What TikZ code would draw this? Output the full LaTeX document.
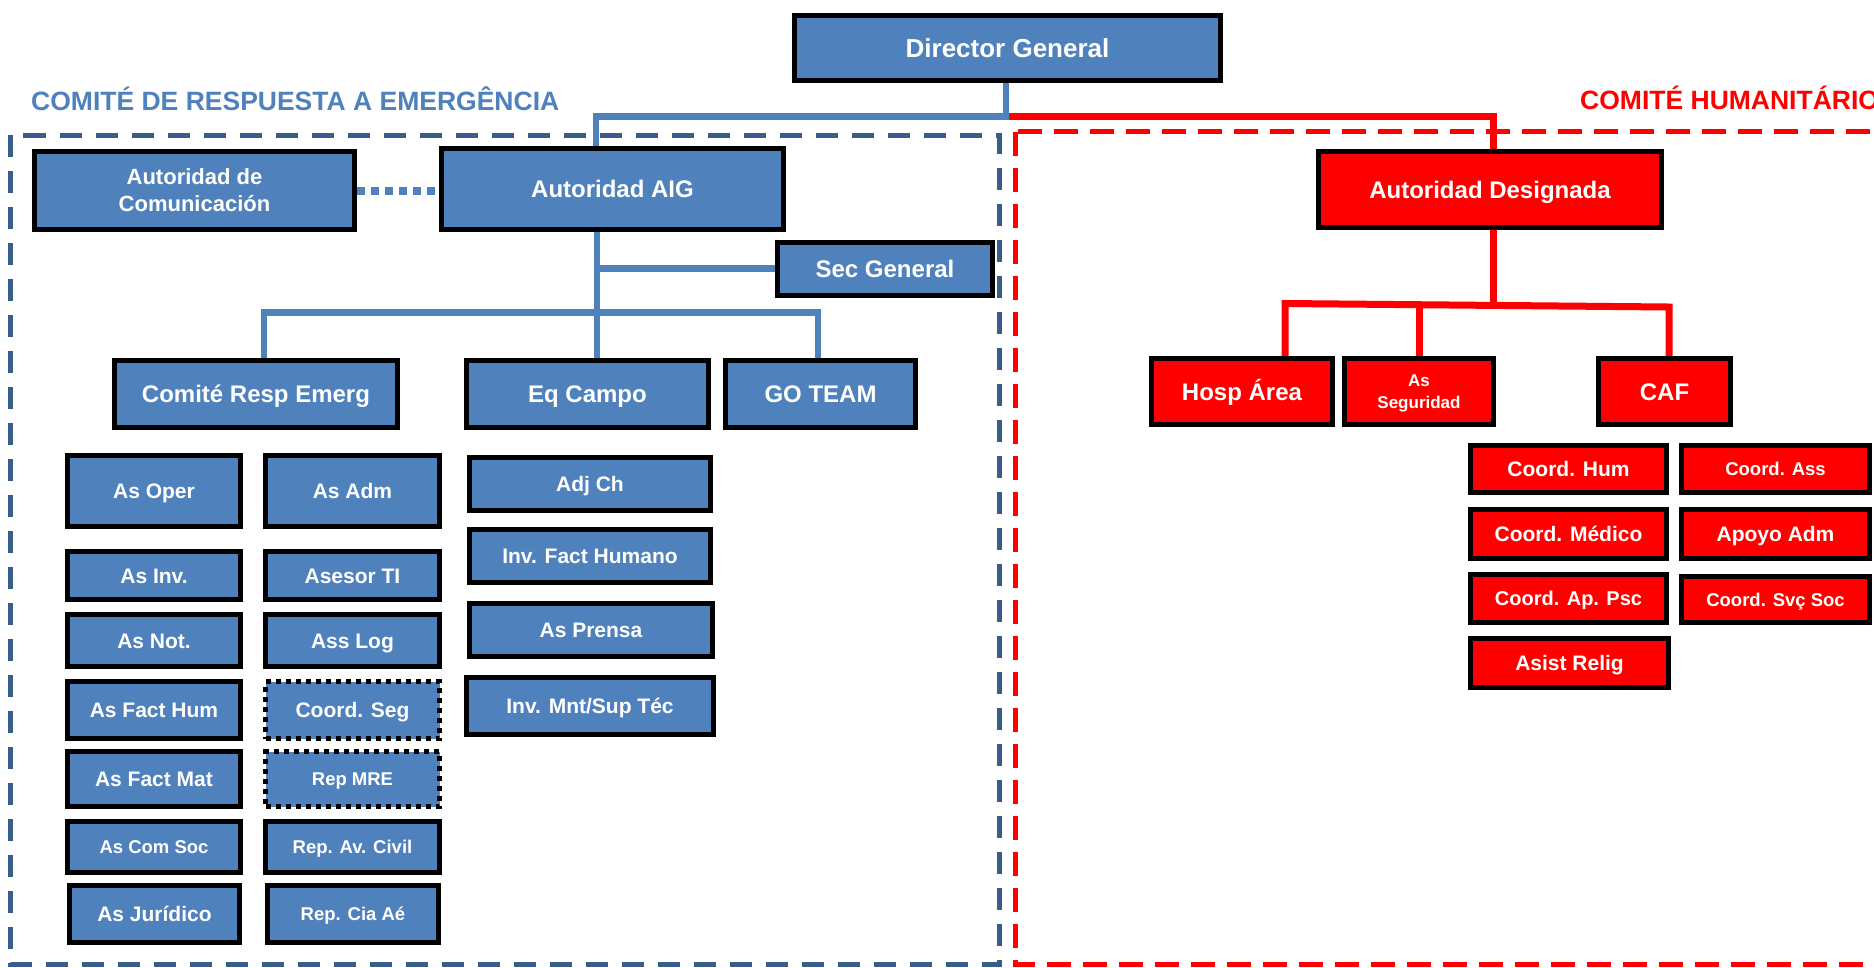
\documentclass[tikz,border=0pt]{standalone}
\usepackage{fontspec}
\setmainfont{Liberation Sans}
\usetikzlibrary{backgrounds}
\definecolor{bfill}{HTML}{4F81BD}
\definecolor{bdash}{HTML}{385D8A}
\definecolor{rfill}{HTML}{FF0000}
\tikzset{
  box/.style={draw=black, line width=5pt, inner sep=0pt, text=white, align=center},
  bluebox/.style={box, fill=bfill},
  redbox/.style={box, fill=rfill},
  dotbox/.style={dash pattern=on 5pt off 5pt},
  fA/.style={font=\bfseries\fontsize{26}{26}\selectfont, text height=18.6pt, text depth=0pt},
  fB/.style={font=\bfseries\fontsize{24}{24}\selectfont, text height=17.2pt, text depth=0pt},
  fC/.style={font=\bfseries\fontsize{21}{21}\selectfont, text height=15pt, text depth=0pt},
  fD/.style={font=\bfseries\fontsize{20}{20}\selectfont, text height=14.3pt, text depth=0pt},
  fE/.style={font=\bfseries\fontsize{18.5}{18.5}\selectfont, text height=13.25pt, text depth=0pt},
  bline/.style={draw=bfill, line width=6.5pt},
  rline/.style={draw=rfill, line width=7pt},
  dotline/.style={draw=bfill, line width=8pt, dash pattern=on 8pt off 6pt},
  title/.style={anchor=base west, inner sep=0pt, font=\bfseries\fontsize{26.5}{30}\selectfont}
}
\newcommand{\mybox}[7]{\node[#6, minimum width={(#4-#2-5)*1pt}, minimum height={(#5-#3-5)*1pt}] (#1) at ({(#2+#4)/2},{(#3+#5)/2}) {#7};}
\begin{document}
\begin{tikzpicture}[x=1pt, y=-1pt, line join=miter]
\useasboundingbox (0,0) rectangle (1874,967);
\clip (0,0) rectangle (1874,967);

% titles
\node[title, text=bfill] (t1) at (31,110.5) {COMITÉ DE RESPUESTA A EMERGÊNCIA};
\node[title, text=rfill] (t2) at (1580,109.5) {COMITÉ HUMANITÁRIO};

% blue boxes
\mybox{DG}{792}{13}{1223}{83}{bluebox, fA}{Director General}
\mybox{AutCom}{32}{149}{357}{232}{bluebox, font=\bfseries\fontsize{22}{27}\selectfont}{Autoridad de\\Comunicación}
\mybox{AIG}{439}{146}{786}{232}{bluebox, fB}{Autoridad AIG}
\mybox{SecGen}{775}{240}{995}{298}{bluebox, fB}{Sec General}
\mybox{Comite}{112}{358}{400}{430}{bluebox, fB}{Comité Resp Emerg}
\mybox{EqCampo}{464}{358}{711}{430}{bluebox, fB}{Eq Campo}
\mybox{GOTEAM}{723}{358}{918}{430}{bluebox, fB}{GO TEAM}
\mybox{AsOper}{65}{453}{243}{529}{bluebox, fC}{As Oper}
\mybox{AsAdm}{263}{453}{442}{529}{bluebox, fC}{As Adm}
\mybox{AsInv}{65}{549}{243}{602}{bluebox, fC}{As Inv.}
\mybox{AsesorTI}{263}{549}{442}{602}{bluebox, fC}{Asesor TI}
\mybox{AsNot}{65}{612}{243}{669}{bluebox, fC}{As Not.}
\mybox{AssLog}{263}{612}{442}{669}{bluebox, fC}{Ass Log}
\mybox{AsFactHum}{65}{679}{243}{741}{bluebox, fC}{As Fact Hum}
\mybox{CoordSeg}{263}{679}{442}{741}{bluebox, dotbox, fC}{Coord. Seg}
\mybox{AsFactMat}{65}{749}{243}{809}{bluebox, fC}{As Fact Mat}
\mybox{RepMRE}{263}{749}{442}{809}{bluebox, dotbox, fE}{Rep MRE}
\mybox{AsComSoc}{65}{819}{243}{875}{bluebox, fE}{As Com Soc}
\mybox{RepAvCivil}{263}{819}{442}{875}{bluebox, fE}{Rep. Av. Civil}
\mybox{AsJuridico}{67}{883}{242}{945}{bluebox, fC}{As Jurídico}
\mybox{RepCiaAe}{265}{883}{441}{945}{bluebox, fE}{Rep. Cia Aé}
\mybox{AdjCh}{467}{455}{713}{513}{bluebox, fC}{Adj Ch}
\mybox{InvFactHum}{467}{527}{713}{585}{bluebox, fC}{Inv. Fact Humano}
\mybox{AsPrensa}{467}{601}{715}{659}{bluebox, fC}{As Prensa}
\mybox{InvMnt}{464}{675}{716}{737}{bluebox, fC}{Inv. Mnt/Sup Téc}

% red boxes
\mybox{AD}{1316}{149}{1664}{230}{redbox, fB}{Autoridad Designada}
\mybox{Hosp}{1149}{356}{1335}{427}{redbox, fB}{Hosp Área}
\mybox{AsSeg}{1342}{356}{1496}{427}{redbox, font=\bfseries\fontsize{17}{21.6}\selectfont, text depth=0pt}{As\\Seguridad}
\mybox{CAF}{1596}{356}{1733}{427}{redbox, fB}{CAF}
\mybox{CoordHum}{1468}{443}{1669}{495}{redbox, fC}{Coord. Hum}
\mybox{CoordAss}{1679}{443}{1872}{495}{redbox, fE}{Coord. Ass}
\mybox{CoordMed}{1468}{507}{1669}{561}{redbox, fC}{Coord. Médico}
\mybox{ApoyoAdm}{1679}{507}{1872}{561}{redbox, fC}{Apoyo Adm}
\mybox{CoordApPsc}{1468}{572}{1669}{625}{redbox, fD}{Coord. Ap. Psc}
\mybox{CoordSvcSoc}{1679}{574}{1872}{625}{redbox, fE}{Coord. Svç Soc}
\mybox{AsistRelig}{1468}{636}{1671}{690}{redbox, fC}{Asist Relig}

\begin{pgfonlayer}{background}
\fill[white] (0,0) rectangle (1874,967);
% committee frames
\draw[bdash, line width=5pt, dash pattern=on 22pt off 14pt] (10.5,135) rectangle (999,964);
\draw[rfill, line width=5pt, dash pattern=on 24pt off 12pt] (1015,131.5) rectangle (1960,964);
% top connectors
\coordinate (j1) at (1006,116.5);
\coordinate (j2) at (596,116.5);
\coordinate (j3) at (1493,116.5);
\draw[rline] (j1) -- (j3) -- (AD.north -| j3);
\draw[bline] (DG.south -| j1) -- (j1) -- (j2) -- (AIG.north -| j2);
% blue lower
\coordinate (v1) at (597,312.5);
\coordinate (s1) at (597,268.5);
\draw[bline] (AIG.south -| v1) -- (EqCampo.north -| v1);
\draw[bline] (s1) -- (SecGen.west |- s1);
\coordinate (d1) at (264,312.5);
\coordinate (d3) at (818,312.5);
\draw[bline] (Comite.north -| d1) -- (d1) -- (d3) -- (GOTEAM.north -| d3);
\draw[dotline] (AutCom.east) -- (AIG.west |- AutCom.east);
% red lower
\coordinate (r0) at (1493,305);
\draw[rline] (AD.south -| r0) -- (r0);
\coordinate (r1) at (1285,303.5);
\coordinate (r3) at (1669,307);
\draw[rline] (Hosp.north -| r1) -- (r1) -- (r3) -- (CAF.north -| r3);
\coordinate (r2) at (1419,305.2);
\draw[rline] (r2) -- (AsSeg.north -| r2);
\end{pgfonlayer}
\end{tikzpicture}
\end{document}
